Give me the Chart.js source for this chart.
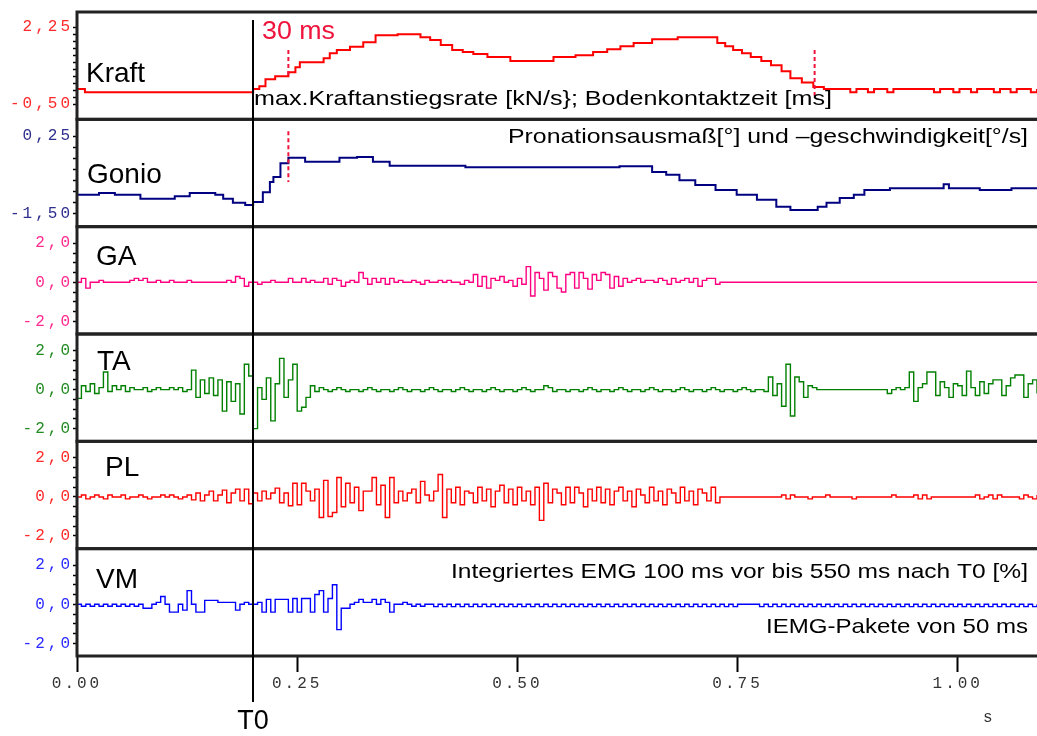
<!DOCTYPE html>
<html>
<head>
<meta charset="utf-8">
<script src="https://cdn.jsdelivr.net/npm/chart.js@4/dist/chart.umd.min.js"></script>
<style>
html, body { margin: 0; padding: 0; background: #fff; }
canvas { display: block; }
</style>
</head>
<body>
<canvas id="chart" width="1037" height="736"></canvas>
<script>
// time axis (s)
const xTicks = [0, 0.25, 0.5, 0.75, 1.0]
const T0 = 0.2
const EMG_DT = 0.005

// Kraft (step curve, change points)
const kraftT = [0, 0.009, 0.2, 0.207, 0.214, 0.225, 0.24, 0.248, 0.253, 0.28, 0.287, 0.295, 0.31, 0.325, 0.339, 0.364,
    0.39, 0.401, 0.413, 0.426, 0.438, 0.45, 0.466, 0.492, 0.541, 0.566, 0.586, 0.602, 0.617, 0.632, 0.653, 0.682,
    0.727, 0.736, 0.745, 0.755, 0.765, 0.777, 0.788, 0.8, 0.81, 0.823, 0.836, 0.848,
    0.878, 0.885, 0.898, 0.905, 0.92, 0.927, 0.973, 0.98, 0.995, 1.002, 1.015, 1.022, 1.041, 1.048, 1.06, 1.067, 1.083, 1.09]
const kraftV = [0.04, -0.07, 0.04, 0.14, 0.39, 0.5, 0.64, 0.82, 1.0, 1.14, 1.32, 1.43, 1.55, 1.71, 1.96, 2.0,
    1.89, 1.79, 1.61, 1.43, 1.36, 1.29, 1.18, 1.04, 1.18, 1.25, 1.36, 1.46, 1.57, 1.68, 1.82, 1.89,
    1.68, 1.57, 1.43, 1.32, 1.18, 1.04, 0.89, 0.68, 0.43, 0.27, 0.11, 0.04,
    -0.07, 0.04, -0.07, 0.04, -0.07, 0.04, -0.07, 0.04, -0.07, 0.04, -0.07, 0.04, -0.07, 0.04, -0.07, 0.04, -0.07, 0.04]

// Gonio (step curve, change points)
const gonioT = [0, 0.025, 0.043, 0.072, 0.111, 0.128, 0.157, 0.166, 0.177, 0.191, 0.2, 0.211, 0.219, 0.223, 0.231, 0.24,
    0.259, 0.298, 0.318, 0.336, 0.355, 0.441, 0.616, 0.653, 0.669, 0.684, 0.702, 0.725, 0.749, 0.772, 0.794, 0.81,
    0.841, 0.851, 0.866, 0.882, 0.894, 0.923, 0.984, 0.99, 1.025, 1.061, 1.09]
const gonioV = [-1.07, -1.03, -1.07, -1.16, -1.1, -1.03, -1.07, -1.16, -1.25, -1.3, -1.23, -1.01, -0.78, -0.67, -0.36, -0.24,
    -0.33, -0.24, -0.22, -0.33, -0.42, -0.45, -0.43, -0.56, -0.62, -0.74, -0.85, -0.96, -1.07, -1.18, -1.34, -1.41,
    -1.34, -1.25, -1.14, -1.07, -0.96, -0.92, -0.83, -0.92, -0.96, -0.92, -0.92]

// EMG channels, one value per 5 ms
const gaV = [
    0, .2, -.3, 0, 0, .1, 0, 0, 0, 0,
    0, 0, .1, .2, .1, .2, 0, 0, .1, 0,
    0, .1, 0, 0, 0, .1, 0, 0, 0, 0,
    0, 0, 0, 0, .1, 0, .3, .2, -.2, 0,
    0, -.1, 0, 0, .1, 0, 0, 0, .2, 0,
    0, .2, 0, .1, 0, 0, .2, -.1, .2, .1,
    -.2, 0, .1, 0, .5, .2, -.1, .2, 0, .2,
    -.1, .2, 0, .1, 0, 0, .1, 0, -.1, .1,
    0, 0, .1, 0, .1, 0, 0, -.1, .1, 0,
    .4, -.2, .3, -.3, .2, .1, .3, 0, .1, -.2,
    .2, -.1, .8, -.7, .5, .2, -.4, .5, .3, -.3,
    -.5, .4, .5, -.3, .5, .2, -.35, .4, .1, .5,
    .4, -.3, .3, -.2, .2, 0, .1, .2, 0, .1,
    .1, 0, .2, .1, -.1, .2, 0, .1, .2, 0,
    .2, -.2, .1, .2, .2, -.1, 0, 0, 0, 0,
    0, 0, 0, 0, 0, 0, 0, 0, 0, 0,
    0, 0, 0, 0, 0, 0, 0, 0, 0, 0,
    0, 0, 0, 0, 0, 0, 0, 0, 0, 0,
    0, 0, 0, 0, 0, 0, 0, 0, 0, 0,
    0, 0, 0, 0, 0, 0, 0, 0, 0, 0,
    0, 0, 0, 0, 0, 0, 0, 0, 0, 0,
    0, 0, 0, 0, 0, 0, 0, 0, 0, 0
]
const taV = [
    -.45, .2, -.1, .3, -.2, .1, .9, -.1, .2, 0,
    .2, -.1, .1, 0, 0, .1, -.1, 0, .1, 0,
    0, .1, 0, .1, -.1, 0, 1.0, -.4, .5, -.2,
    .6, -.3, .5, -1.1, .4, -.6, .3, -1.25, 1.3, .7,
    -2.0, .1, -.5, .6, -1.6, .3, 1.6, -.4, .5, 1.3,
    -1.1, -.9, -.4, .2, -.1, .1, 0, -.1, 0, .1,
    0, -.1, 0, 0, -.1, 0, .1, 0, -.1, 0,
    0, -.1, 0, .1, 0, -.1, 0, 0, -.1, 0,
    .1, 0, -.1, 0, 0, -.1, 0, .1, 0, -.1,
    0, 0, -.1, 0, .1, 0, -.1, 0, 0, -.1,
    0, .1, 0, -.1, 0, 0, .2, .1, -.1, 0,
    0, -.1, 0, 0, -.1, 0, .1, 0, -.1, 0,
    0, -.1, 0, .1, 0, -.1, 0, 0, -.1, 0,
    .1, 0, -.1, 0, 0, -.1, 0, .1, 0, -.1,
    0, 0, -.1, 0, .1, 0, -.1, 0, 0, -.1,
    0, .1, 0, -.1, 0, 0, -.1, .65, -.3, .3,
    -.85, 1.3, -1.35, .65, .4, -.4, .2, .1, 0, 0,
    0, 0, 0, 0, 0, 0, 0, 0, 0, 0,
    0, 0, 0, 0, -.2, 0, .1, 0, .1, .9,
    -.6, .1, .3, .9, .9, -.3, .4, .1, -.4, .3,
    .2, -.3, .95, .1, -.3, .4, -.2, .3, .5, .5,
    -.3, .2, .6, .75, .75, -.4, .3, .5, -.2, .3
]
const plV = [
    0, .1, -.1, 0, .1, 0, -.1, .1, 0, 0,
    .1, -.1, 0, 0, .1, 0, -.1, 0, 0, .1,
    0, .1, 0, -.1, 0, .1, -.15, .2, -.2, .1,
    .3, -.2, .1, .35, -.3, .2, .4, -.2, .4, -.35,
    .2, -.2, .3, -.1, .2, .45, -.3, .2, -.45, .7,
    -.4, .7, .3, -.2, .4, -1.05, .85, -1.0, -.8, 1.0,
    -.5, .7, -.3, .5, -.7, .3, .3, 1.0, -.4, .6,
    -1.05, 1.0, -.3, .3, -.2, .2, .4, -.3, .8, .1,
    -.2, .3, 1.15, -1.05, .4, -.3, .5, -.4, .3, .2,
    -.3, .5, -.2, .4, -.5, .3, .6, -.3, .4, -.4,
    .5, -.2, .3, -.4, .5, -1.2, .7, -.3, .4, .2,
    -.4, .5, -.3, .5, .2, -.5, .4, -.2, .5, -.3,
    .4, -.4, .3, .5, -.2, .3, -.5, .4, .1, -.3,
    .5, -.2, .3, -.4, .4, .2, -.3, .5, -.2, .3,
    -.4, .4, .2, -.2, .5, -.3, 0, 0, 0, 0,
    0, 0, 0, 0, 0, 0, 0, 0, 0, 0,
    .1, -.1, .1, 0, 0, 0, -.1, 0, 0, 0,
    .1, 0, 0, 0, 0, 0, -.1, 0, 0, 0,
    0, 0, 0, 0, 0, .1, 0, 0, 0, 0,
    .1, -.1, .1, -.1, 0, 0, 0, 0, 0, 0,
    0, 0, 0, 0, .1, -.1, 0, .1, -.1, .1,
    0, 0, 0, 0, -.1, .1, 0, -.1, .1, 0
]
const vmV = [
    0, -.1, 0, -.1, 0, -.1, 0, -.1, 0, -.1,
    0, -.1, 0, -.1, 0, -.2, -.2, 0, .1, .4,
    0, -.4, -.4, 0, -.3, .7, 0, -.4, -.4, .2,
    .2, .2, .1, .1, .1, .1, -.3, 0, .1, 0,
    0, .1, -.4, .25, -.4, .25, .25, .25, -.4, .3,
    -.4, .3, .3, -.4, .5, .7, -.4, .3, 1.0, -1.3,
    -.2, -.2, 0, .1, .25, .1, .1, .25, 0, .25,
    .1, -.4, 0, 0, .1, 0, -.1, 0, -.1, 0,
    0, -.12, 0, -.12, 0, -.12, 0, -.12, 0, -.12,
    0, -.12, 0, -.12, 0, -.12, 0, -.12, 0, -.12,
    0, -.12, 0, -.12, 0, -.12, 0, -.12, 0, -.12,
    0, -.12, 0, -.12, 0, -.12, 0, -.12, 0, -.12,
    0, -.12, 0, -.12, 0, -.12, 0, -.12, 0, -.12,
    0, -.12, 0, -.12, 0, -.12, 0, -.12, 0, -.12,
    0, -.12, 0, -.12, 0, -.12, 0, -.12, 0, -.12,
    0, 0, 0, 0, 0, -.12, 0, -.12, 0, -.12,
    0, -.12, 0, -.12, 0, -.12, 0, -.12, 0, -.12,
    0, -.12, 0, -.12, 0, -.12, 0, -.12, 0, -.12,
    0, -.12, 0, -.12, 0, -.12, 0, -.12, 0, -.12,
    0, -.12, 0, -.12, 0, -.12, 0, -.12, 0, -.12,
    0, -.12, 0, -.12, 0, -.12, 0, -.12, 0, -.12,
    0, -.12, 0, -.12, 0, -.12, 0, -.12, 0, -.12
]

// tick labels per panel
const kraftTicks = [2.25, -0.5]
const gonioTicks = [0.25, -1.5]
const emgTicks = [2.0, 0.0, -2.0]

// markers (s): 30 ms after T0, end of ground contact
const markT = [0.24, 0.8375]
const kraftMarkRange = [[1.43, 0.54], [1.43, -0.25]]
const gonioMarkRange = [0.36, -0.78]

const panels = [
    {id: 'yK', name: 'Kraft', color: '#ff0000', tick: '#ff2a2a', min: -1.04, max: 2.79, major: kraftTicks, step: 0.25, dec: 2, lx: 86, ly: 74},
    {id: 'yG', name: 'Gonio', color: '#000080', tick: '#2e2e8e', min: -1.785, max: 0.625, major: gonioTicks, step: 0.25, dec: 2, lx: 87, ly: 175},
    {id: 'yGA', name: 'GA', color: '#ff0080', tick: '#ff2a90', min: -2.65, max: 2.85, major: emgTicks, step: 0.5, dec: 1, lx: 96, ly: 257},
    {id: 'yTA', name: 'TA', color: '#008000', tick: '#228b22', min: -2.65, max: 2.85, major: emgTicks, step: 0.5, dec: 1, lx: 97, ly: 362},
    {id: 'yPL', name: 'PL', color: '#ff0000', tick: '#ff2a2a', min: -2.65, max: 2.85, major: emgTicks, step: 0.5, dec: 1, lx: 105, ly: 468},
    {id: 'yVM', name: 'VM', color: '#0000ff', tick: '#2a2aff', min: -2.65, max: 2.85, major: emgTicks, step: 0.5, dec: 1, lx: 96, ly: 580}
]

const toPoints = (ts, vs) => ts.map((t, i) => ({x: t, y: vs[i]}))
const emgPoints = (vs) => {
    const pts = vs.map((v, i) => ({x: i * EMG_DT, y: v}))
    pts.push({x: vs.length * EMG_DT, y: vs[vs.length - 1]})
    return pts
}
const seriesData = [toPoints(kraftT, kraftV), toPoints(gonioT, gonioV), emgPoints(gaV), emgPoints(taV), emgPoints(plV), emgPoints(vmV)]

const tickFont = {family: '"Liberation Mono", monospace', size: 16}
const scales = {
    x: {
        type: 'linear', position: 'bottom', min: 0, max: 1.09,
        border: {display: false},
        grid: {drawOnChartArea: false, drawTicks: true, tickLength: 16, tickWidth: 2, color: '#000'},
        ticks: {color: '#333', font: tickFont, padding: 2, maxRotation: 0, autoSkip: false,
            callback: v => v.toFixed(2)},
        afterBuildTicks: s => { s.ticks = xTicks.map(v => ({value: v})) },
        afterFit: s => { s.height = 80 }
    }
}
panels.forEach((p, k) => {
    scales[p.id] = {
        type: 'linear', position: 'left', stack: 'panels', stackWeight: 1, weight: 10 - k,
        min: p.min, max: p.max,
        border: {display: false},
        grid: {drawOnChartArea: false, drawTicks: true, tickLength: 4, tickWidth: 1.5, color: '#000'},
        ticks: {color: p.tick, font: tickFont, padding: 0, autoSkip: false,
            callback: v => p.major.some(m => Math.abs(m - v) < 1e-6) ? v.toFixed(p.dec).replace('.', ',') : ''},
        afterBuildTicks: s => {
            const hi = Math.max(...p.major), lo = Math.min(...p.major)
            const list = []
            for (let v = hi; v >= lo - 1e-6; v -= p.step) list.push({value: Math.round(v * 1000) / 1000})
            s.ticks = list
        },
        afterFit: s => { s.width = 77 }
    }
})

const fitText = (ctx, text, x, y, width, size, color, align) => {
    ctx.save()
    ctx.font = size + 'px "Liberation Sans", Arial, sans-serif'
    const w = ctx.measureText(text).width
    ctx.translate(x, y)
    ctx.scale(width / w, 1)
    ctx.textAlign = align
    ctx.textBaseline = 'middle'
    ctx.fillStyle = color
    ctx.fillText(text, 0, 0)
    ctx.restore()
}

const decor = {
    id: 'decor',
    beforeDraw: chart => { chart.ctx.letterSpacing = '3px' },
    afterDraw: chart => {
        const ctx = chart.ctx
        const area = chart.chartArea
        const xs = chart.scales.x
        ctx.save()
        ctx.letterSpacing = '0px'
        // panel frames
        ctx.strokeStyle = '#222'
        ctx.lineWidth = 3
        panels.forEach(p => {
            const s = chart.scales[p.id]
            ctx.strokeRect(area.left, s.top, area.right - area.left + 4, s.bottom - s.top)
        })
        // T0 line
        const x0 = Math.round(xs.getPixelForValue(T0))
        ctx.strokeStyle = '#000'
        ctx.lineWidth = 2
        ctx.beginPath()
        ctx.moveTo(x0, area.top + 8)
        ctx.lineTo(x0, area.bottom + 46)
        ctx.stroke()
        // red dashed markers
        ctx.strokeStyle = '#f0143c'
        ctx.lineWidth = 2
        ctx.setLineDash([4, 3])
        const yk = chart.scales.yK, yg = chart.scales.yG
        markT.forEach((t, i) => {
            const px = xs.getPixelForValue(t)
            ctx.beginPath()
            ctx.moveTo(px, yk.getPixelForValue(kraftMarkRange[i][0]))
            ctx.lineTo(px, yk.getPixelForValue(kraftMarkRange[i][1]))
            ctx.stroke()
        })
        const pg = xs.getPixelForValue(markT[0])
        ctx.beginPath()
        ctx.moveTo(pg, yg.getPixelForValue(gonioMarkRange[0]))
        ctx.lineTo(pg, yg.getPixelForValue(gonioMarkRange[1]))
        ctx.stroke()
        ctx.setLineDash([])
        // panel names
        ctx.fillStyle = '#000'
        ctx.textBaseline = 'middle'
        ctx.textAlign = 'left'
        ctx.font = '28px "Liberation Sans", Arial, sans-serif'
        panels.forEach(p => ctx.fillText(p.name, p.lx, p.ly))
        // annotations
        fitText(ctx, '30 ms', 262, 32, 73, 26, '#f0143c', 'left')
        fitText(ctx, 'max.Kraftanstiegsrate [kN/s}; Bodenkontaktzeit [ms]', 254, 99, 578, 21, '#000', 'left')
        fitText(ctx, 'Pronationsausmaß[°] und –geschwindigkeit[°/s]', 1028, 137, 520, 21, '#000', 'right')
        fitText(ctx, 'Integriertes EMG 100 ms vor bis 550 ms nach T0 [%]', 1028, 572, 577, 21, '#000', 'right')
        fitText(ctx, 'IEMG-Pakete von 50 ms', 1028, 627, 262, 21, '#000', 'right')
        // T0 and unit labels
        ctx.textAlign = 'center'
        ctx.font = '27px "Liberation Sans", Arial, sans-serif'
        ctx.fillText('T0', x0, 722)
        ctx.font = '16px "Liberation Mono", monospace'
        ctx.fillStyle = '#333'
        ctx.fillText('s', xs.getPixelForValue(1.034), 718)
        ctx.restore()
    }
}

new Chart(document.getElementById('chart'), {
    type: 'line',
    data: {
        datasets: panels.map((p, k) => ({
            label: p.name,
            data: seriesData[k],
            yAxisID: p.id,
            xAxisID: 'x',
            borderColor: p.color,
            borderWidth: k < 2 ? 2 : 1.4,
            stepped: true,
            pointRadius: 0,
            fill: false
        }))
    },
    options: {
        responsive: false,
        animation: false,
        devicePixelRatio: 1,
        layout: {padding: {top: 12, left: 0, right: 0, bottom: 0}},
        plugins: {legend: {display: false}, tooltip: {enabled: false}},
        scales: scales
    },
    plugins: [decor]
})
</script>
</body>
</html>
